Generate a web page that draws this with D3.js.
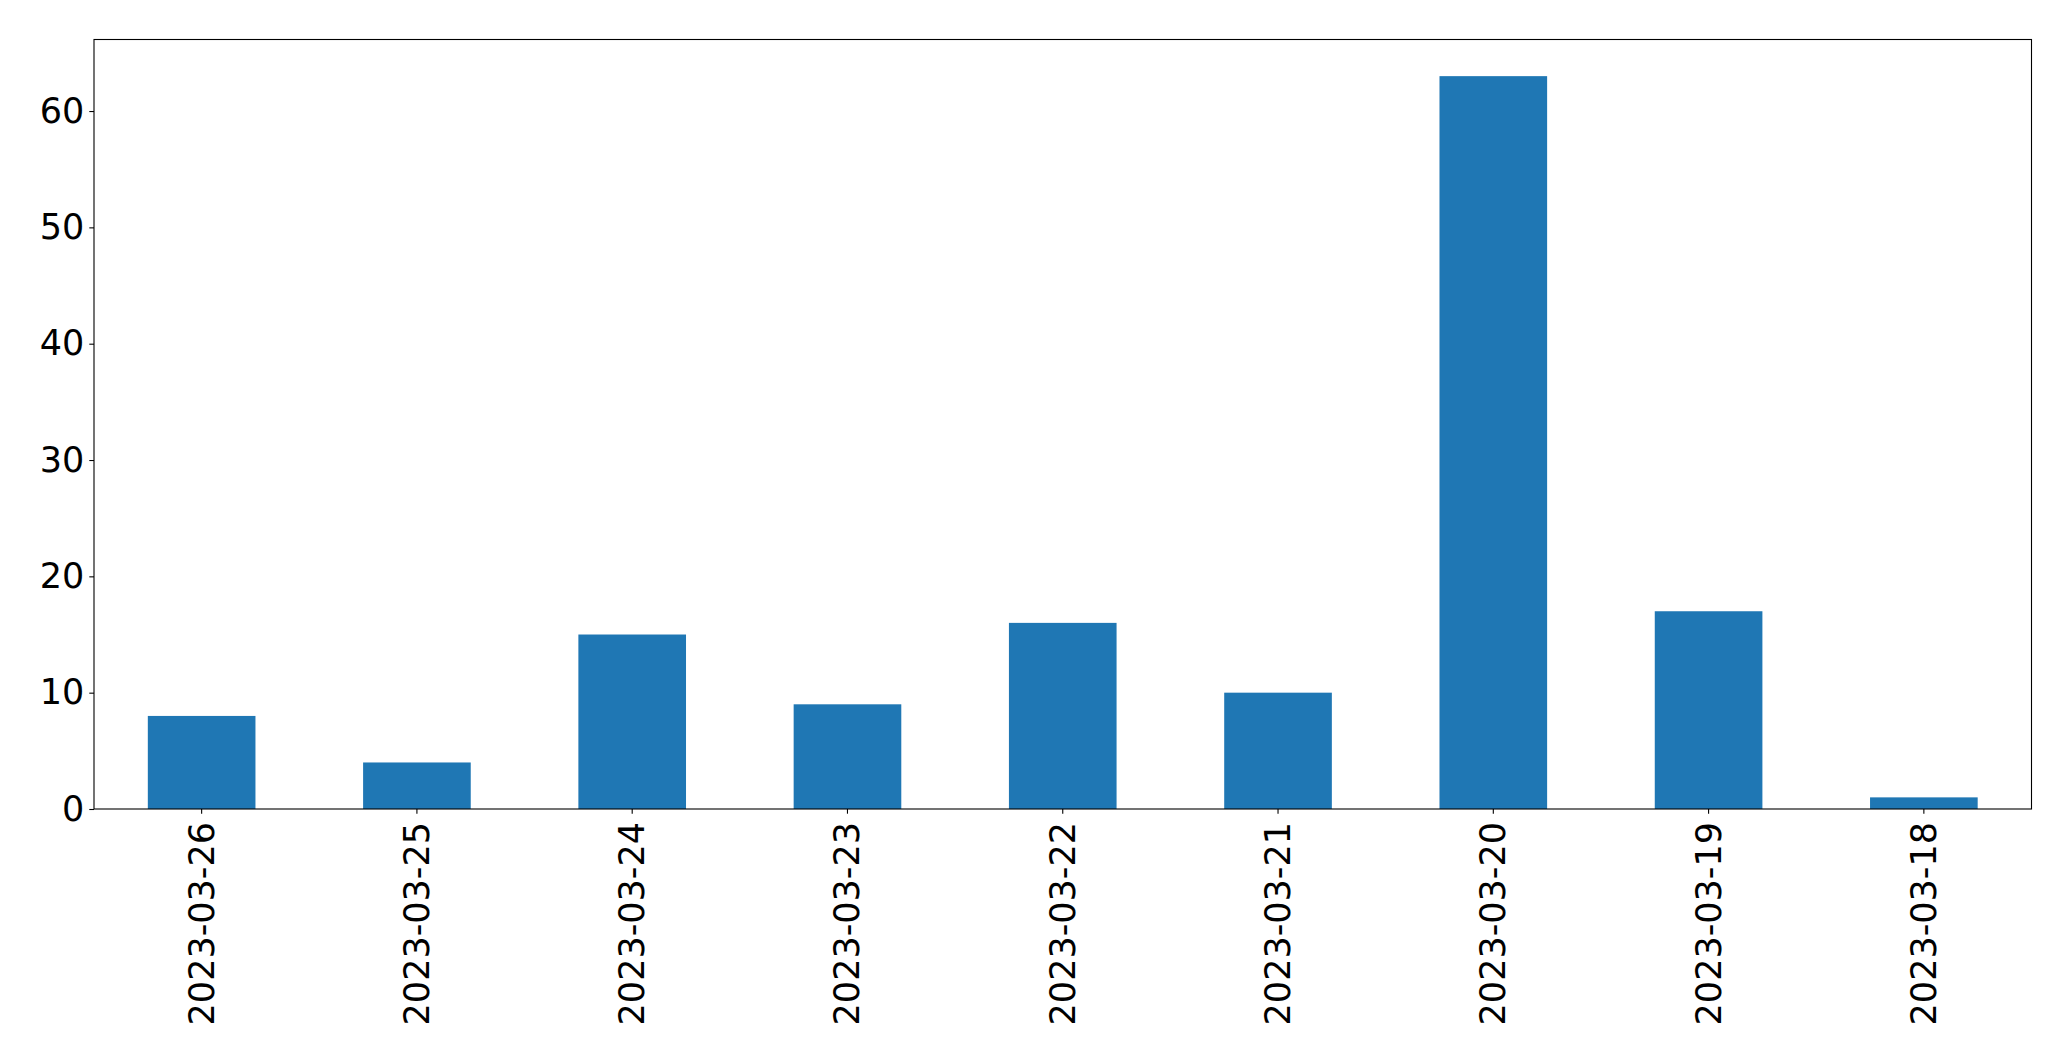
<!DOCTYPE html>
<html><head><meta charset="utf-8">
<script src="https://cdn.jsdelivr.net/npm/d3@7"></script>
<style>body{margin:0;background:#fff}svg{display:block}</style>
</head><body>
<script>
const categories = ["2023-03-26","2023-03-25","2023-03-24","2023-03-23","2023-03-22","2023-03-21","2023-03-20","2023-03-19","2023-03-18"];
const values = [8, 4, 15, 9, 16, 10, 63, 17, 1];
const yTicks = [0, 10, 20, 30, 40, 50, 60];

const W = 2071, H = 1061;
const m = {left: 94, right: 2031.5, top: 39.5, bottom: 809};
const svg = d3.select("body").append("svg").attr("width", W).attr("height", H);

const x = d3.scaleBand().domain(categories).range([m.left, m.right]).paddingInner(0.5).paddingOuter(0.25);
const y = d3.scaleLinear().domain([0, d3.max(values) * 1.05]).range([m.bottom, m.top]);

svg.append("g").selectAll("rect").data(values).join("rect")
  .attr("x", (d, i) => x(categories[i]))
  .attr("width", x.bandwidth())
  .attr("y", d => y(d))
  .attr("height", d => y(0) - y(d))
  .attr("fill", "#1f77b4");

const font = "'DejaVu Sans', sans-serif";
const yAxis = svg.append("g").attr("transform", `translate(${m.left},0)`)
  .call(d3.axisLeft(y).tickValues(yTicks).tickSize(4.7).tickPadding(5));
yAxis.select(".domain").remove();
yAxis.selectAll("text").attr("font-size", 35).attr("font-family", font).attr("fill", "#000");
yAxis.selectAll("line").attr("stroke", "#000").attr("stroke-width", 1.1);

const xAxis = svg.append("g").attr("transform", `translate(0,${m.bottom})`)
  .call(d3.axisBottom(x).tickSize(4.7).tickPadding(0));
xAxis.select(".domain").remove();
xAxis.selectAll("line").attr("stroke", "#000").attr("stroke-width", 1.1);
xAxis.selectAll("text")
  .attr("font-size", 35).attr("font-family", font).attr("fill", "#000")
  .attr("text-anchor", "end")
  .attr("dy", null).attr("y", null)
  .attr("transform", "translate(0,13) rotate(-90)")
  .attr("dominant-baseline", "central");

svg.append("rect").attr("x", m.left).attr("y", m.top)
  .attr("width", m.right - m.left).attr("height", m.bottom - m.top)
  .attr("fill", "none").attr("stroke", "#000").attr("stroke-width", 1.1);
</script>
</body></html>
